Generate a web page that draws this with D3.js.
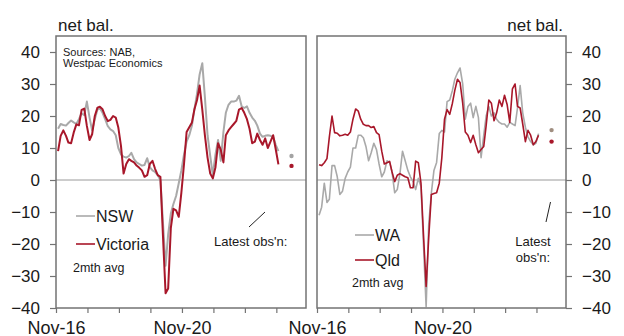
<!DOCTYPE html>
<html>
<head>
<meta charset="utf-8">
<script src="https://cdn.jsdelivr.net/npm/d3@7"></script>
<style>
  body { margin: 0; background: #fff; }
  svg text { font-family: "Liberation Sans", Arial, sans-serif; fill: #1a1a1a; }
</style>
</head>
<body>
<div id="chart"></div>
<script>
// monthly series, first point Nov-16, 2 month average
const nsw = [16, 17.5, 17.2, 17, 17.8, 18.6, 18, 17.5, 19, 20.8, 20.3, 24.5, 19.5, 15.5, 19, 22, 22.4, 21, 19, 16.8,
  15.8, 15.3, 14, 10, 8, 7.3, 7, 7.5, 8.5, 6.5, 5.5, 5, 4.5, 4.7, 6.8, 4, 3, 2.5, 1.5, 0,
  -13, -26.8, -17, -10.5, -7.5, -5, -1, 3, 8, 12, 14, 17, 22, 27, 33, 36.5, 26, 14, 7.5, 1.5,
  8, 12.5, 6, 15, 21, 23.5, 24.5, 24.5, 24.8, 26.3, 23, 22.5, 23, 21, 19.5, 18.5, 17, 14.5, 13.5, 13.8,
  14, 13.8, 13.5, 11, 9];
const vic = [9, 13.8, 15.5, 13.8, 11.7, 11.5, 14.8, 17.4, 17.1, 21.9, 22.3, 16.9, 12.5, 14.3, 20, 22.6, 22.9, 22.1, 20, 18.4,
  18.8, 20, 19.5, 16.4, 10.6, 2, 5, 6.5, 6, 5.5, 4.5, 3.8, 3, 1, 1.5, 5, 6, 3.5, 1.5, 1,
  -17, -35.4, -33.9, -15, -9, -9.5, -11.5, -4, 5, 15, 16.5, 18, 22, 25, 29.5, 22, 14, 7, 2, 0.5,
  4, 11.5, 9.5, 5.5, 14, 15.5, 16.5, 17.5, 18.5, 22, 22.5, 21, 19, 16, 11.5, 12, 14.5, 12.5, 11, 13,
  10, 12, 14, 9.6, 4.9];
const wa = [-11, -8.5, -1, -7, -6, 4.5, 4.5, 1, -4.5, -3.5, 0.5, 2.5, 4, 10, 10, 14, 14, 13.2, 10.5, 6,
  8.5, 11.5, 9.5, 5, 1, 2.5, 6, 5.5, 2.5, -4, -3, 2, 9, 6, 3, 1, -0.5, -3, 0.5, -2,
  -20, -39.6, -14, -4, 3, 5.5, 14.5, 15.5, 15, 24.5, 25, 28, 31.5, 33.5, 35, 30, 19, 23, 24, 19.5,
  23, 19.5, 7, 14, 20, 23, 20, 21, 19, 18, 17.5, 17.5, 16.5, 18, 17.5, 17, 22.5, 29.5, 21, 16.5,
  13.5, 12, 11, 11.5, 14.5];
const qld = [4.8, 4.5, 5.4, 6.7, 13.5, 20, 14.8, 14.6, 13.8, 14, 14.3, 14, 15, 19, 22.2, 21.5, 19, 17.4, 17, 17,
  16.4, 16.7, 14.8, 14.2, 9, 5, 5.4, 5.8, 2.5, -0.5, 1.5, 2, 1.5, 1, 0.7, -2.4, -2.4, 5.9, 5.4, -1,
  -17, -33.3, -18, -4.5, -4.2, -4, -1, 7, 19, 22, 20.5, 24, 28, 31.5, 30.5, 24, 15, 14, 11.7, 14,
  11, 8.5, 9.5, 10.5, 17, 25, 24, 18.5, 21, 25, 23, 26.5, 23.5, 18, 28.5, 30, 23, 22.5, 17.5, 12,
  15.5, 14, 11, 12, 14];

// latest observations (dots), month index from Nov-16
const latestMonth = 89;
const latestNSW = 7.5, latestVic = 4.4, latestWA = 15.6, latestQld = 12;

const yTicks = [-40, -30, -20, -10, 0, 10, 20, 30, 40];
const xTickYears = [2016, 2017, 2018, 2019, 2020, 2021, 2022, 2023];
const xLabelYears = [2016, 2020];

const width = 624, height = 336;
const plotTop = 36, plotBottom = 308;
const grey = "#a9a9a9", red = "#a8172a", frameCol = "#737373";

const svg = d3.select("#chart").append("svg")
    .attr("width", width)
    .attr("height", height);

const monthDate = i => new Date(2016, 10 + i, 25);

const y = d3.scaleLinear().domain([-40, 45]).range([plotBottom, plotTop]);

function drawPanel(p) {
    const x = d3.scaleTime()
        .domain([new Date(2016, 10, 1), new Date(2024, 9, 10)])
        .range([p.left, p.right]);
    const g = svg.append("g");

    // zero line
    g.append("line")
        .attr("x1", p.left).attr("x2", p.right)
        .attr("y1", y(0)).attr("y2", y(0))
        .attr("stroke", "#9a9a9a").attr("stroke-width", 1);

    const line = d3.line()
        .x((d, i) => x(monthDate(i)))
        .y(d => y(d));

    g.append("path").datum(p.grey)
        .attr("fill", "none").attr("stroke", grey)
        .attr("stroke-width", p.lw).attr("stroke-linejoin", "round")
        .attr("d", line);
    g.append("path").datum(p.red)
        .attr("fill", "none").attr("stroke", red)
        .attr("stroke-width", p.lw).attr("stroke-linejoin", "round")
        .attr("d", line);

    // frame
    g.append("rect")
        .attr("x", p.left).attr("y", plotTop)
        .attr("width", p.right - p.left).attr("height", plotBottom - plotTop)
        .attr("fill", "none").attr("stroke", frameCol).attr("stroke-width", 1.5);

    // y axis
    const yAxis = (p.side === "left" ? d3.axisLeft(y) : d3.axisRight(y))
        .tickValues(yTicks).tickSize(6).tickPadding(10);
    const ya = g.append("g")
        .attr("transform", `translate(${p.side === "left" ? p.left : p.right},0)`)
        .call(yAxis);
    ya.select(".domain").remove();
    ya.selectAll("line").attr("stroke", frameCol).attr("stroke-width", 1.2);
    ya.selectAll("text").style("font-size", "17px").attr("fill", "#1a1a1a");

    // x axis
    const xa = g.append("g")
        .attr("transform", `translate(0,${plotBottom})`)
        .call(d3.axisBottom(x)
            .tickValues(xTickYears.map(yr => new Date(yr, 10, 1)))
            .tickSize(5)
            .tickFormat(d => xLabelYears.includes(d.getFullYear()) ? d3.timeFormat("Nov-%y")(d) : ""));
    xa.select(".domain").remove();
    xa.selectAll("line").attr("stroke", frameCol).attr("stroke-width", 1.2);
    xa.selectAll("text").style("font-size", "18px").attr("y", 13).attr("fill", "#1a1a1a");

    // latest observation dots
    g.append("circle").attr("cx", x(monthDate(latestMonth))).attr("cy", y(p.latestGrey))
        .attr("r", 2.2).attr("fill", p.dotGrey);
    g.append("circle").attr("cx", x(monthDate(latestMonth))).attr("cy", y(p.latestRed))
        .attr("r", 2.2).attr("fill", red);

    // legend
    const lg = p.legend;
    [[p.names[0], grey, lg.y1], [p.names[1], red, lg.y2]].forEach(([name, col, ly]) => {
        g.append("line")
            .attr("x1", lg.x).attr("x2", lg.x + 19)
            .attr("y1", ly).attr("y2", ly)
            .attr("stroke", col).attr("stroke-width", 1.6);
        g.append("text")
            .attr("x", lg.x + 20).attr("y", ly + 6)
            .style("font-size", "16px")
            .text(name);
    });
    g.append("text")
        .attr("x", lg.x - 3).attr("y", lg.y3)
        .style("font-size", "12.5px")
        .text("2mth avg");

    // latest obs'n note
    g.append("line")
        .attr("x1", p.slash[0]).attr("y1", p.slash[1])
        .attr("x2", p.slash[2]).attr("y2", p.slash[3])
        .attr("stroke", "#222").attr("stroke-width", 1);
    p.note.forEach(n => {
        g.append("text")
            .attr("x", n.x).attr("y", n.y)
            .attr("text-anchor", n.anchor)
            .style("font-size", "13px")
            .text(n.t);
    });
}

drawPanel({
    left: 56, right: 306, side: "left", lw: 2,
    grey: nsw, red: vic, names: ["NSW", "Victoria"],
    latestGrey: latestNSW, latestRed: latestVic, dotGrey: "#a3a3a3",
    legend: {x: 76, y1: 216, y2: 244, y3: 272},
    slash: [249, 227, 265, 212],
    note: [{t: "Latest obs'n:", x: 214, y: 246, anchor: "start"}]
});

drawPanel({
    left: 317, right: 566, side: "right", lw: 1.6,
    grey: wa, red: qld, names: ["WA", "Qld"],
    latestGrey: latestWA, latestRed: latestQld, dotGrey: "#a08e80",
    legend: {x: 355, y1: 235, y2: 260, y3: 287},
    slash: [546, 222, 550.5, 202],
    note: [{t: "Latest", x: 533, y: 246, anchor: "middle"},
           {t: "obs'n:", x: 533, y: 262, anchor: "middle"}]
});

// unit labels and source
svg.append("text").attr("x", 58).attr("y", 31)
    .style("font-size", "17px").text("net bal.");
svg.append("text").attr("x", 563).attr("y", 31).attr("text-anchor", "end")
    .style("font-size", "17px").text("net bal.");
svg.append("text").attr("x", 63).attr("y", 56)
    .style("font-size", "11px").text("Sources:  NAB,");
svg.append("text").attr("x", 63).attr("y", 67)
    .style("font-size", "11px").text("Westpac Economics");
</script>
</body>
</html>
